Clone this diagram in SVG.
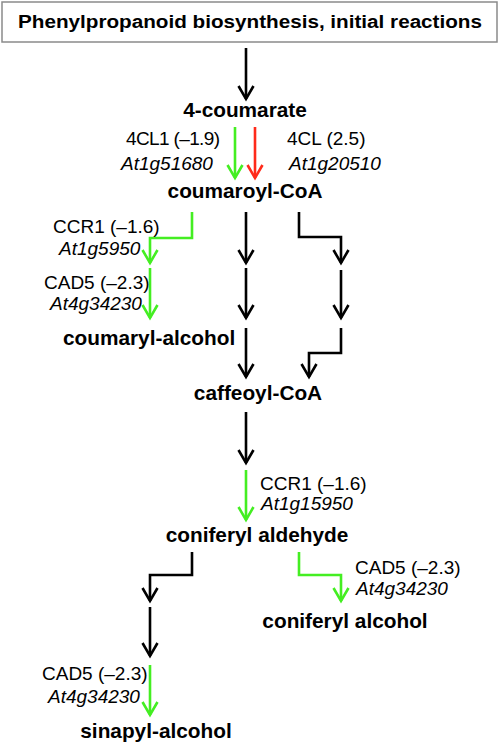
<svg xmlns="http://www.w3.org/2000/svg" width="500" height="745" viewBox="0 0 500 745">
<style>
.b{font-family:"Liberation Sans",Arial,sans-serif;font-weight:bold;font-size:20.8px;fill:#000}
.r{font-family:"Liberation Sans",Arial,sans-serif;font-size:19px;fill:#000}
.i{font-family:"Liberation Sans",Arial,sans-serif;font-size:19px;font-style:italic;fill:#000}
.k{fill:none;stroke:#000;stroke-width:2.6}
.g{fill:none;stroke:#44ee22;stroke-width:2.6}
.rd{fill:none;stroke:#ff2a1a;stroke-width:2.6}
</style>
<defs>
<marker id="ak" markerUnits="userSpaceOnUse" markerWidth="20" markerHeight="20" viewBox="-15 -10 20 20" refX="0" refY="0" orient="auto">
<path d="M-13,-7.5 L0,0 L-13,7.5" fill="none" stroke="#000" stroke-width="2.6"/>
</marker>
<marker id="ag" markerUnits="userSpaceOnUse" markerWidth="20" markerHeight="20" viewBox="-15 -10 20 20" refX="0" refY="0" orient="auto">
<path d="M-13,-7.5 L0,0 L-13,7.5" fill="none" stroke="#44ee22" stroke-width="2.6"/>
</marker>
<marker id="ar" markerUnits="userSpaceOnUse" markerWidth="20" markerHeight="20" viewBox="-15 -10 20 20" refX="0" refY="0" orient="auto">
<path d="M-13,-7.5 L0,0 L-13,7.5" fill="none" stroke="#ff2a1a" stroke-width="2.6"/>
</marker>
</defs>
<g id="title">
<rect x="2" y="2" width="495" height="40" fill="#fff" stroke="#8a8a8a" stroke-width="1.5"/>
<text class="b" x="18" y="28" textLength="464" lengthAdjust="spacingAndGlyphs" style="font-size:18.8px">Phenylpropanoid biosynthesis, initial reactions</text>
</g>
<g id="connectors">
<path class="k" d="M246,48 V99" marker-end="url(#ak)"/>
<path class="g" d="M235,127 V178" marker-end="url(#ag)"/>
<path class="rd" d="M255,127 V178" marker-end="url(#ar)"/>
<path class="g" d="M192,212 V238 H150 V263" marker-end="url(#ag)"/>
<path class="k" d="M246,212 V263" marker-end="url(#ak)"/>
<path class="k" d="M299,212 V237 H341 V263" marker-end="url(#ak)"/>
<path class="g" d="M150,268 V318" marker-end="url(#ag)"/>
<path class="k" d="M246,268 V318" marker-end="url(#ak)"/>
<path class="k" d="M341,270 V318" marker-end="url(#ak)"/>
<path class="k" d="M246,328 V377" marker-end="url(#ak)"/>
<path class="k" d="M341,328 V353 H309 V377" marker-end="url(#ak)"/>
<path class="k" d="M246,412 V463" marker-end="url(#ak)"/>
<path class="g" d="M246,470 V520" marker-end="url(#ag)"/>
<path class="k" d="M192,552 V575 H150 V601" marker-end="url(#ak)"/>
<path class="g" d="M299,552 V575 H341 V601" marker-end="url(#ag)"/>
<path class="k" d="M150,607 V656" marker-end="url(#ak)"/>
<path class="g" d="M150,665 V715" marker-end="url(#ag)"/>
</g>
<g id="n-4coumarate"><text class="b" x="245" y="117" text-anchor="middle">4-coumarate</text></g>
<g id="l-4cl1"><text class="r" x="126" y="145" textLength="94">4CL1 (–1.9)</text><text class="i" x="121" y="170">At1g51680</text></g>
<g id="l-4cl"><text class="r" x="287" y="145">4CL (2.5)</text><text class="i" x="289" y="170">At1g20510</text></g>
<g id="n-coumaroylcoa"><text class="b" x="245" y="198" text-anchor="middle">coumaroyl-CoA</text></g>
<g id="l-ccr1a"><text class="r" x="53" y="233">CCR1 (–1.6)</text><text class="i" x="59" y="255">At1g5950</text></g>
<g id="l-cad5a"><text class="r" x="44" y="289">CAD5 (–2.3)</text><text class="i" x="50" y="310">At4g34230</text></g>
<g id="n-coumarylalcohol"><text class="b" x="63" y="345">coumaryl-alcohol</text></g>
<g id="n-caffeoylcoa"><text class="b" x="258" y="400" text-anchor="middle">caffeoyl-CoA</text></g>
<g id="l-ccr1b"><text class="r" x="260" y="490">CCR1 (–1.6)</text><text class="i" x="261" y="510">At1g15950</text></g>
<g id="n-coniferylaldehyde"><text class="b" x="257" y="542" text-anchor="middle">coniferyl aldehyde</text></g>
<g id="l-cad5b"><text class="r" x="355" y="574">CAD5 (–2.3)</text><text class="i" x="356" y="595">At4g34230</text></g>
<g id="n-coniferylalcohol"><text class="b" x="345" y="628" text-anchor="middle">coniferyl alcohol</text></g>
<g id="l-cad5c"><text class="r" x="42" y="680">CAD5 (–2.3)</text><text class="i" x="48" y="703">At4g34230</text></g>
<g id="n-sinapylalcohol"><text class="b" x="156" y="738" text-anchor="middle">sinapyl-alcohol</text></g>
</svg>
